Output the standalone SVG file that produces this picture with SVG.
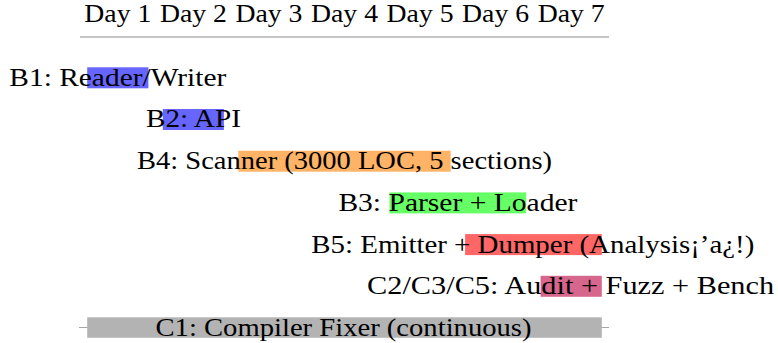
<svg xmlns="http://www.w3.org/2000/svg" width="778" height="343" viewBox="0 0 778 343">
<style>
text{font-family:"Liberation Serif","DejaVu Serif",serif;font-size:25px;fill:#000;text-anchor:middle}
.bar{stroke:none}
.axis{stroke:#b0b0b0;stroke-width:1.5;fill:none}
.thin{stroke:#a8a8a8;stroke-width:1;fill:none}
</style>
<rect width="778" height="343" fill="#fff"/>
<g id="header">
<text x="117.8" y="22" textLength="67" lengthAdjust="spacingAndGlyphs">Day 1</text>
<text x="193.4" y="22" textLength="67" lengthAdjust="spacingAndGlyphs">Day 2</text>
<text x="268.9" y="22" textLength="67" lengthAdjust="spacingAndGlyphs">Day 3</text>
<text x="344.5" y="22" textLength="67" lengthAdjust="spacingAndGlyphs">Day 4</text>
<text x="420.1" y="22" textLength="67" lengthAdjust="spacingAndGlyphs">Day 5</text>
<text x="495.6" y="22" textLength="67" lengthAdjust="spacingAndGlyphs">Day 6</text>
<text x="571.2" y="22" textLength="67" lengthAdjust="spacingAndGlyphs">Day 7</text>
</g>
<g id="connectors">
<line class="axis" x1="80" y1="37" x2="609" y2="37"/>
<line class="thin" x1="79" y1="327.5" x2="609" y2="327.5"/>
</g>
<g id="B1">
<rect class="bar" x="87.2" y="67.3" width="61.2" height="21" fill="#6666ff"/>
<text x="117.8" y="85.7" textLength="217" lengthAdjust="spacingAndGlyphs">B1: Reader/Writer</text>
</g>
<g id="B2">
<rect class="bar" x="162.8" y="109" width="61.1" height="21" fill="#6666ff"/>
<text x="193.4" y="127.4" textLength="95" lengthAdjust="spacingAndGlyphs">B2: API</text>
</g>
<g id="B4">
<rect class="bar" x="238.3" y="150.7" width="212.4" height="21" fill="#ffb366"/>
<text x="344.5" y="169.1" textLength="415" lengthAdjust="spacingAndGlyphs">B4: Scanner (3000 LOC, 5 sections)</text>
</g>
<g id="B3">
<rect class="bar" x="389.5" y="192.4" width="136.7" height="21" fill="#66ff66"/>
<text x="457.9" y="210.8" textLength="239" lengthAdjust="spacingAndGlyphs">B3: Parser + Loader</text>
</g>
<g id="B5">
<rect class="bar" x="465.1" y="234.1" width="136.7" height="21" fill="#ff6666"/>
<text x="532.8" y="252.5" textLength="443" lengthAdjust="spacingAndGlyphs">B5: Emitter + Dumper (Analysis¡’a¿!)</text>
</g>
<g id="C2C3C5">
<rect class="bar" x="540.6" y="275.8" width="61.2" height="21" fill="#d6668c"/>
<text x="570.6" y="294.2" textLength="407" lengthAdjust="spacingAndGlyphs">C2/C3/C5: Audit + Fuzz + Bench</text>
</g>
<g id="C1">
<rect class="bar" x="87.2" y="317.3" width="514.6" height="20.5" fill="#b3b3b3"/>
<text x="343.5" y="335.5" textLength="376" lengthAdjust="spacingAndGlyphs">C1: Compiler Fixer (continuous)</text>
</g>
</svg>
